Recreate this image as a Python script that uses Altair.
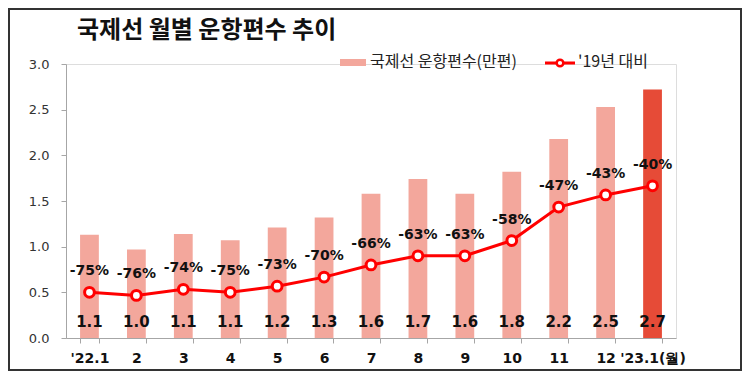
import altair as alt
import pandas as pd

months = ["'22.1", "2", "3", "4", "5", "6", "7", "8", "9", "10", "11", "12", "'23.1(월)"]
flights = [1.13, 0.97, 1.14, 1.07, 1.21, 1.32, 1.58, 1.74, 1.58, 1.82, 2.18, 2.53, 2.72]
change = [-75, -76, -74, -75, -73, -70, -66, -63, -63, -58, -47, -43, -40]
highlight = [False] * 12 + [True]

title_text = "국제선 월별 운항편수 추이"
legend_bar = "국제선 운항편수(만편)"
legend_line = "'19년 대비"

df = pd.DataFrame({"month": months, "flights": flights, "change": change, "hl": highlight})
one = pd.DataFrame({"a": [0]})

KFONT = "Noto Sans CJK KR"
NFONT = "DejaVu Sans"
PINK = "#F3A79C"
DARK = "#E64B37"
RED = "#FF0000"

x = alt.X("month:N", sort=months, title=None,
          scale=alt.Scale(paddingInner=0.6, paddingOuter=0.3),
          axis=alt.Axis(labelAngle=0, labelFont=NFONT, labelFontSize=14, labelFontWeight="bold",
                        labelColor="#111", tickBand="extent", tickSize=5, labelPadding=8,
                        domainColor="#A6A6A6", tickColor="#A6A6A6"))

yl_scale = alt.Scale(domain=[0, 3], nice=False, zero=True)
yr_scale = alt.Scale(domain=[-90, 0], nice=False, zero=False)

bars = alt.Chart(df).mark_bar().encode(
    x=x,
    y=alt.Y("flights:Q", scale=yl_scale, title=None,
            axis=alt.Axis(values=[0, 0.5, 1, 1.5, 2, 2.5, 3], format=".1f", grid=False,
                          labelFont=NFONT, labelFontSize=13, labelColor="#333",
                          tickSize=5, labelPadding=12, domainColor="#A6A6A6", tickColor="#A6A6A6")),
    color=alt.condition("datum.hl", alt.value(DARK), alt.value(PINK)),
)
bar_labels = alt.Chart(df).mark_text(font=NFONT, fontSize=15, fontWeight="bold", color="#111",
                                     baseline="middle", dy=-16).encode(
    x=x, y=alt.datum(0, scale=yl_scale), text=alt.Text("flights:Q", format=".1f"))

left = alt.layer(bars, bar_labels)

line = alt.Chart(df).mark_line(color=RED, strokeWidth=3).encode(
    x=x,
    y=alt.Y("change:Q", scale=yr_scale, title=None,
            axis=alt.Axis(orient="right", values=[0, -10, -20, -30, -40, -50, -60, -70, -80],
                          labelExpr="datum.value + '%'", grid=False,
                          labelFont=NFONT, labelFontSize=13, labelColor="#333",
                          tickSize=5, labelPadding=8, domainColor="#A6A6A6", tickColor="#A6A6A6")),
)
points = alt.Chart(df).mark_point(filled=True, fill="white", stroke=RED, strokeWidth=3,
                                  size=95, opacity=1).encode(
    x=x, y=alt.Y("change:Q", scale=yr_scale, axis=None))
pct_text = alt.Chart(df).transform_calculate(lbl="datum.change + '%'").mark_text(
    font=NFONT, fontSize=14, fontWeight="bold", color="#111", baseline="middle", dy=-21).encode(
    x=x, y=alt.Y("change:Q", scale=yr_scale, axis=None), text="lbl:N")

right = alt.layer(line, points, pct_text)

# title, legend and frame (decoration)
title = alt.Chart(one).mark_text(align="left", baseline="middle", font=KFONT, fontSize=24,
                                 fontWeight="bold", color="#111", text=title_text).encode(
    x=alt.value(11), y=alt.value(-33))
leg_rect = alt.Chart(one).mark_rect(fill=PINK).encode(
    x=alt.value(274), x2=alt.value(300), y=alt.value(-5), y2=alt.value(2))
leg_t1 = alt.Chart(one).mark_text(align="left", baseline="middle", font=KFONT, fontSize=16,
                                  color="#222", text=legend_bar).encode(
    x=alt.value(304), y=alt.value(-2))
leg_rule = alt.Chart(one).mark_rule(color=RED, strokeWidth=3).encode(
    x=alt.value(479), x2=alt.value(509), y=alt.value(-1))
leg_pt = alt.Chart(one).mark_point(filled=True, fill="white", stroke=RED, strokeWidth=2.5,
                                   size=45, opacity=1).encode(
    x=alt.value(494), y=alt.value(-1))
leg_t2 = alt.Chart(one).mark_text(align="left", baseline="middle", font=KFONT, fontSize=16,
                                  color="#222", text=legend_line).encode(
    x=alt.value(512), y=alt.value(-2))
frame = alt.Chart(one).mark_rect(fill=None, stroke="#333", strokeWidth=2).encode(
    x=alt.value(-57), x2=alt.value(675), y=alt.value(-55), y2=alt.value(306))

chart = alt.layer(left, right, title, leg_rect, leg_t1, leg_rule, leg_pt, leg_t2, frame).resolve_scale(
    y="independent"
).properties(
    width=610, height=274,
    padding={"left": 58, "top": 56, "right": 66, "bottom": 34},
    autosize=alt.AutoSizeParams(type="none"),
).configure_view(stroke=None).configure(background="white")

chart.save("out.html", embed_options={"renderer": "svg", "actions": False})
